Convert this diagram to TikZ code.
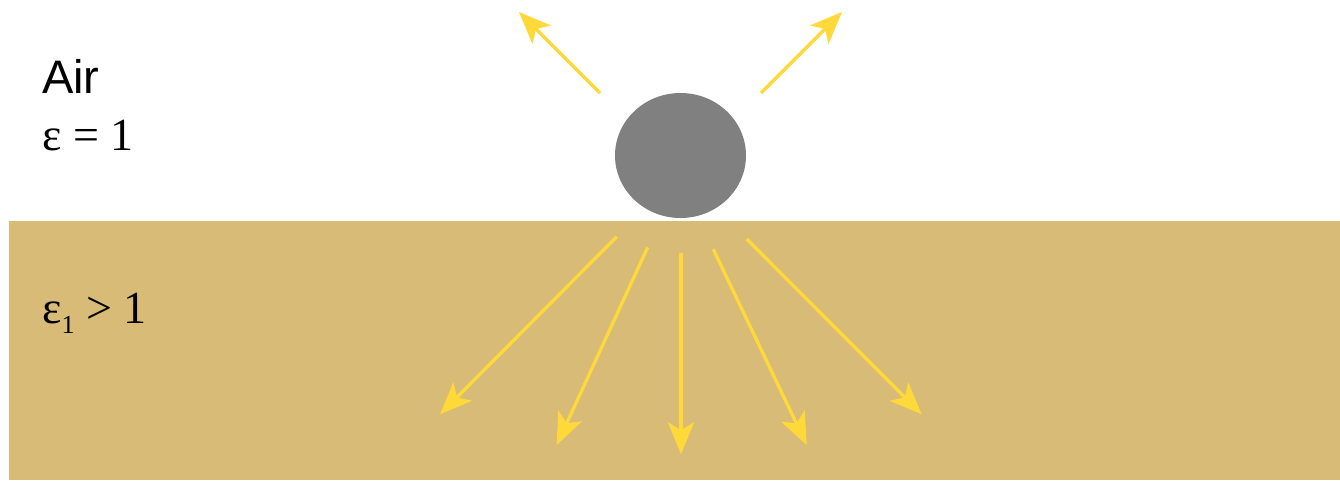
\documentclass[tikz,border=0pt]{standalone}
\usepackage{fontspec}
\setmainfont{Liberation Serif}
\newfontfamily\arialfont{Liberation Sans}
\usetikzlibrary{arrows.meta}
\definecolor{ground}{HTML}{D8BB77}
\definecolor{ray}{HTML}{FFD93A}
\definecolor{ball}{HTML}{808080}
\tikzset{
  rayarrow/.style={draw=ray, line width=3.3pt, -{Stealth[length=32pt, width=26pt, inset=8pt, fill=ray]}},
  lbl/.style={anchor=base west, inner sep=0pt, text=black}
}
\begin{document}
\begin{tikzpicture}[x=1pt, y=-1pt]
  \useasboundingbox (0,0) rectangle (1340,480);
  \fill[white] (0,0) rectangle (1340,480);
  \fill[ground] (9,221) rectangle (1340,480);
  \fill[ball] (680.5,155.5) ellipse [x radius=65.5, y radius=62.5];
  % labels
  \node[lbl, font=\arialfont\fontsize{47}{50}\selectfont] (air) at (42,93) {Air};
  \node[lbl, font=\fontsize{46}{50}\selectfont] (eps0) at (42,150) {ε = 1};
  \node[lbl, font=\fontsize{46}{50}\selectfont] (eps1) at (42,323) {ε\raisebox{-10pt}{\fontsize{26}{28}\selectfont 1} > 1};
  % ray coordinates
  \coordinate (ua) at (600,93);  \coordinate (uat) at (519,12);
  \coordinate (ub) at (761,93);  \coordinate (ubt) at (842,12);
  \coordinate (d1) at (616.7,236.7); \coordinate (d1t) at (440,414.3);
  \coordinate (d2) at (647.7,247.3); \coordinate (d2t) at (556.7,445);
  \coordinate (d3) at (681,253.3);   \coordinate (d3t) at (681,454.3);
  \coordinate (d4) at (713.3,249.3); \coordinate (d4t) at (806.7,445);
  \coordinate (d5) at (746.7,239);   \coordinate (d5t) at (921.7,414.3);
  \draw[rayarrow] (ua) -- (uat);
  \draw[rayarrow] (ub) -- (ubt);
  \draw[rayarrow] (d1) -- (d1t);
  \draw[rayarrow] (d2) -- (d2t);
  \draw[rayarrow] (d3) -- (d3t);
  \draw[rayarrow] (d4) -- (d4t);
  \draw[rayarrow] (d5) -- (d5t);
\end{tikzpicture}
\end{document}
